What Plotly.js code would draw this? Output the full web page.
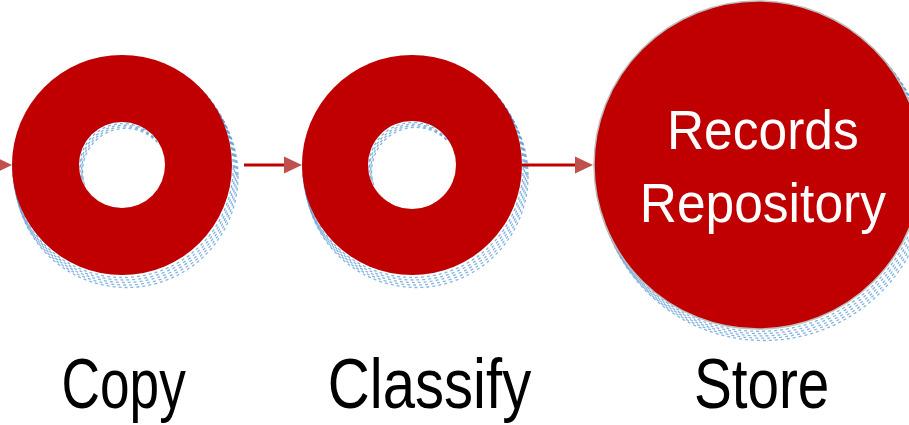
<!DOCTYPE html>
<html><head><meta charset="utf-8">
<script src="https://cdn.plot.ly/plotly-3.0.1.min.js"></script>
<style>html,body{margin:0;padding:0;background:#fff;}#chart{width:909px;height:425px;}</style>
</head><body><div id="chart"></div>
<script>
// Data
const stepLabels = ['Copy', 'Classify', 'Store'];
const stepShapes = ['donut', 'donut', 'circle'];
const centerText = ['', '', 'Records<br>Repository'];

// Layout config (pixel positions in a 909x425 frame)
const cx = [122, 412, 758];
const cy = 165;
const outerR = [110, 110, 164];
const innerR = [43, 44, 0];
const labelX = [123, 429, 761];
const labelScale = [0.76, 0.83, 0.81];
const labelY = 384;
const centerTextX = 763;
const arrows = [[-30, 12], [244, 302], [522, 593]];

const RED = '#c00000';
const DOT = 'rgba(91,155,213,0.75)';
const FONT = '"Liberation Sans Narrow", "Arial Narrow", "Liberation Sans", Arial, sans-serif';
const shapes = [];
const annotations = [];
const annScale = [];

function circlePts(x, y, r, n) {
  const p = [];
  for (let k = 0; k <= n; k++) { const t = 2 * Math.PI * k / n; p.push([x + r * Math.cos(t), y + r * Math.sin(t)]); }
  return p;
}

for (let i = 0; i < stepLabels.length; i++) {
  const R = outerR[i];
  const big = stepShapes[i] === 'circle';
  // stippled outer shadow
  for (let k = 1; k <= 5; k++) {
    const dx = k * (big ? 1.2 : 0.9), dy = k * (big ? 2.0 : 2.2), rr = R + k * 0.3;
    shapes.push({type: 'circle', xref: 'x', yref: 'y', x0: cx[i] - rr + dx, x1: cx[i] + rr + dx, y0: cy - rr + dy, y1: cy + rr + dy,
      line: {color: DOT, width: 1.3, dash: 'dot'}, fillcolor: 'rgba(0,0,0,0)', layer: 'below'});
  }
  shapes.push({type: 'circle', xref: 'x', yref: 'y', x0: cx[i] - R, x1: cx[i] + R, y0: cy - R, y1: cy + R,
    fillcolor: RED, line: {color: big ? '#bdbdbd' : RED, width: big ? 1.5 : 0}});
  if (!big) {
    const r = innerR[i];
    shapes.push({type: 'circle', xref: 'x', yref: 'y', x0: cx[i] - r, x1: cx[i] + r, y0: cy - r, y1: cy + r,
      fillcolor: '#ffffff', line: {width: 0}});
    // shadow of the ring cast into the hole (top-left crescent)
    for (let k = 1; k <= 4; k++) {
      const dx = k * 0.9, dy = k * 1.6;
      let path = '';
      let prevIn = false;
      circlePts(cx[i] + dx, cy + dy, r, 180).forEach(([x, y]) => {
        const inside = Math.hypot(x - cx[i], y - cy) < r - 0.8;
        if (inside) { path += (prevIn ? ' L ' : ' M ') + x.toFixed(2) + ' ' + y.toFixed(2); }
        prevIn = inside;
      });
      if (path) shapes.push({type: 'path', xref: 'x', yref: 'y', path: path.trim(), line: {color: DOT, width: 1.3, dash: 'dot'}});
    }
  }
  annotations.push({x: labelX[i], y: labelY, xref: 'x', yref: 'y', text: stepLabels[i], showarrow: false,
    font: {family: FONT, size: 70, color: '#000'}, xanchor: 'center', yanchor: 'middle'});
  annScale.push(labelScale[i]);
  if (centerText[i]) {
    annotations.push({x: centerTextX, y: cy + 1, xref: 'x', yref: 'y', text: centerText[i], showarrow: false,
      font: {family: FONT, size: 56, color: '#fff'}, xanchor: 'center', yanchor: 'middle'});
    annScale.push(0.92);
  }
}
arrows.forEach(([a, b]) => {
  const headL = 18, headH = 8.5;
  shapes.push({type: 'line', xref: 'x', yref: 'y', x0: a, x1: b - headL + 1, y0: cy, y1: cy, line: {color: RED, width: 3}});
  shapes.push({type: 'path', xref: 'x', yref: 'y', path: `M ${b - headL} ${cy - headH} L ${b} ${cy} L ${b - headL} ${cy + headH} Z`,
    fillcolor: '#c0504d', line: {width: 0}});
});

const layout = {
  width: 909, height: 425,
  margin: {l: 0, r: 0, t: 0, b: 0},
  paper_bgcolor: '#fff', plot_bgcolor: '#fff',
  xaxis: {range: [0, 909], visible: false, fixedrange: true},
  yaxis: {range: [425, 0], visible: false, fixedrange: true},
  shapes, annotations, showlegend: false
};
Plotly.newPlot('chart', [{x: [0], y: [0], mode: 'markers', marker: {opacity: 0}, hoverinfo: 'skip'}], layout, {staticPlot: true, displayModeBar: false})
  .then(() => {
    document.querySelectorAll('#chart .annotation').forEach((g, idx) => {
      const t = g.querySelector('text.annotation-text');
      if (!t) return;
      const bb = t.getBBox();
      const c = bb.x + bb.width / 2;
      const s = annScale[idx] || 1;
      t.setAttribute('transform', `translate(${c} 0) scale(${s} 1) translate(${-c} 0)`);
    });
  });
</script></body></html>
